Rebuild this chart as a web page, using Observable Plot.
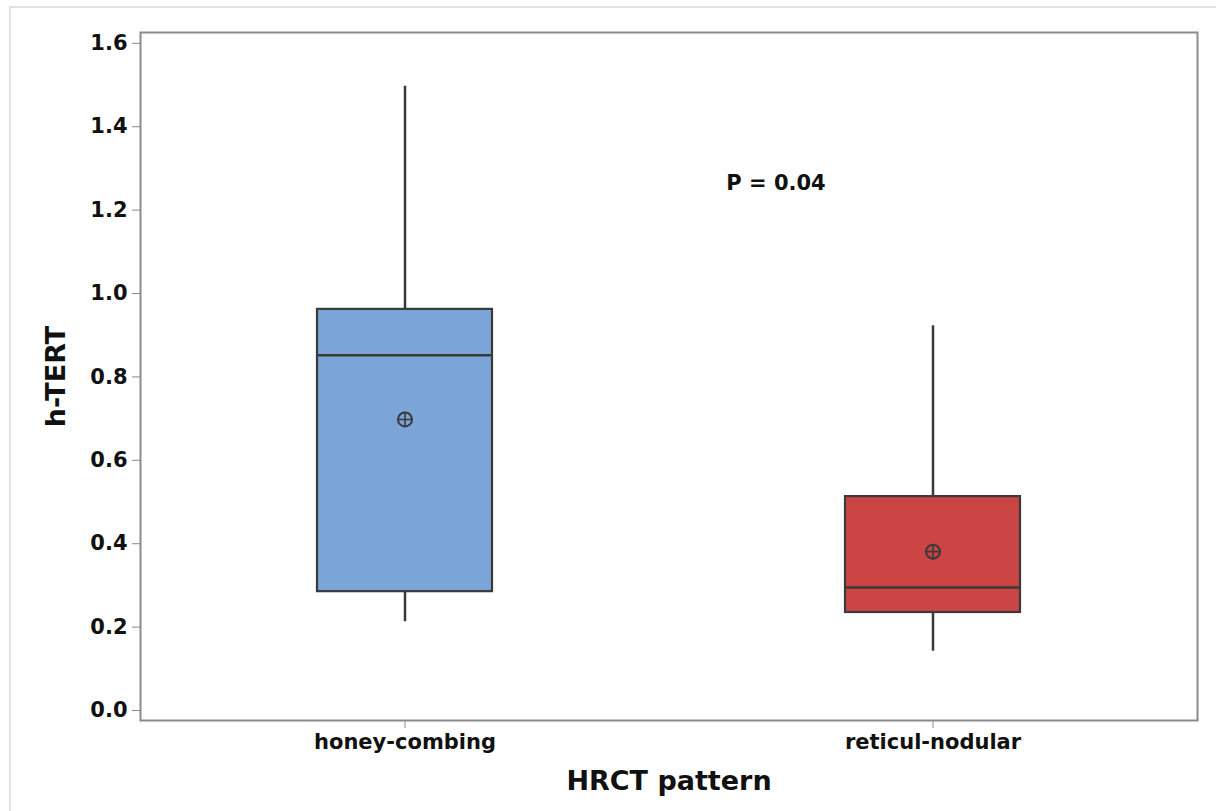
<!DOCTYPE html>
<html>
<head>
<meta charset="utf-8">
<script src="https://cdn.jsdelivr.net/npm/d3@7"></script>
<script src="https://cdn.jsdelivr.net/npm/@observablehq/plot@0.6"></script>
<style>
  html, body { margin: 0; padding: 0; background: #fff; }
  #wrap { position: relative; width: 1216px; height: 811px; overflow: hidden; }
  #border { position: absolute; left: 9px; top: 6px; width: 1300px; height: 900px;
            border-top: 2px solid #e2e2e2; border-left: 2px solid #e2e2e2; }
  #chart { position: absolute; left: 0; top: 0; }
</style>
</head>
<body>
<div id="wrap"><div id="border"></div><div id="chart"></div></div>
<script>
// Data
const categories = ["honey-combing", "reticul-nodular"];
const whiskerLow  = [0.213, 0.142];
const q1          = [0.285, 0.235];
const median      = [0.852, 0.295];
const q3          = [0.962, 0.513];
const whiskerHigh = [1.497, 0.923];
const mean        = [0.698, 0.381];
const boxColors   = ["#7BA5D8", "#CB4545"];
const yTicks      = [0.0, 0.2, 0.4, 0.6, 0.8, 1.0, 1.2, 1.4, 1.6];
const pValueText  = "P = 0.04";
const pValueY     = 1.265;

const rows = categories.map((c, i) => ({
  cat: c, lo: whiskerLow[i], q1: q1[i], med: median[i], q3: q3[i],
  hi: whiskerHigh[i], mean: mean[i], color: boxColors[i]
}));

const font = "DejaVu Sans, sans-serif";
const dark = "#3a3a3a";

const chart = Plot.plot({
  width: 1216,
  height: 811,
  marginLeft: 140,
  marginRight: 19,
  marginTop: 32,
  marginBottom: 91,
  style: { fontFamily: font, background: "transparent" },
  x: { domain: categories, paddingInner: 0.669, paddingOuter: 0.334 },
  y: { domain: [-0.024, 1.626] },
  marks: [
    Plot.axisY({ ticks: yTicks, tickFormat: d3.format(".1f"), tickSize: 8, tickPadding: 5,
      fontSize: 21, fontWeight: "bold", fill: "#111", stroke: "#8a8a8a", label: null }),
    Plot.axisX({ tickSize: 8, tickPadding: 6, fontSize: 21, fontWeight: "bold",
      fill: "#111", stroke: "#8a8a8a", label: null }),
    Plot.ruleX(rows, { x: "cat", y1: "lo", y2: "hi", stroke: dark, strokeWidth: 2.5 }),
    Plot.barY(rows, { x: "cat", y1: "q1", y2: "q3", fill: "color", stroke: dark, strokeWidth: 2.2 }),
    Plot.tickY(rows, { x: "cat", y: "med", stroke: dark, strokeWidth: 2.6 }),
    Plot.dot(rows, { x: "cat", y: "mean", r: 7, stroke: dark, strokeWidth: 2, fill: "none" }),
    Plot.dot(rows, { x: "cat", y: "mean", r: 5, symbol: "plus", stroke: dark, strokeWidth: 1.6 }),
    Plot.frame({ stroke: "#8a8a8a", strokeWidth: 2 }),
    Plot.text([pValueText], { x: () => categories[1], y: () => pValueY, text: d => d, dx: -157,
      fontSize: 21, fontWeight: "bold", fill: "#111" }),
    Plot.text(["h-TERT"], { frameAnchor: "left", text: d => d, rotate: -90, dx: -84,
      textAnchor: "middle", lineAnchor: "middle",
      fontSize: 27, fontWeight: "bold", fill: "#111" }),
    Plot.text(["HRCT pattern"], { frameAnchor: "bottom", text: d => d, dy: 61,
      textAnchor: "middle", lineAnchor: "middle",
      fontSize: 27, fontWeight: "bold", fill: "#111" })
  ]
});
document.getElementById("chart").appendChild(chart);
</script>
</body>
</html>
